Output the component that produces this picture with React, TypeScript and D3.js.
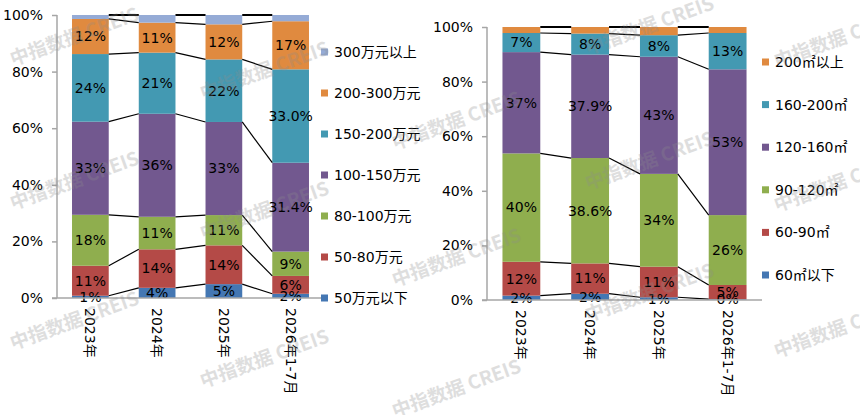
import { useEffect, useRef } from "react";
import * as d3 from "d3";

// categories
const years = ["2023年", "2024年", "2025年", "2026年1-7月"];

// 总价段 (left chart), bottom to top
const priceSeries = ["50万元以下", "50-80万元", "80-100万元", "100-150万元", "150-200万元", "200-300万元", "300万元以上"];
const priceValues = [
  [0.8, 3.6, 4.9, 1.5],
  [10.6, 13.6, 13.7, 6.3],
  [18.0, 11.5, 10.7, 8.6],
  [32.9, 36.4, 32.9, 31.4],
  [23.9, 21.6, 22.1, 33.0],
  [12.4, 10.6, 12.4, 17.0],
  [1.4, 2.7, 3.3, 2.2],
];
const priceLabels = [
  ["1%", "4%", "5%", "2%"],
  ["11%", "14%", "14%", "6%"],
  ["18%", "11%", "11%", "9%"],
  ["33%", "36%", "33%", "31.4%"],
  ["24%", "21%", "22%", "33.0%"],
  ["12%", "11%", "12%", "17%"],
  ["", "", "", ""],
];

// 面积段 (right chart), bottom to top
const areaSeries = ["60㎡以下", "60-90㎡", "90-120㎡", "120-160㎡", "160-200㎡", "200㎡以上"];
const areaValues = [
  [1.6, 2.3, 1.0, 0.3],
  [12.4, 11.1, 11.2, 5.2],
  [39.7, 38.6, 34.0, 25.6],
  [37.1, 37.9, 42.9, 53.4],
  [7.0, 7.7, 7.9, 13.3],
  [2.2, 2.4, 3.0, 2.2],
];
const areaLabels = [
  ["2%", "2%", "1%", "0%"],
  ["12%", "11%", "11%", "5%"],
  ["40%", "38.6%", "34%", "26%"],
  ["37%", "37.9%", "43%", "53%"],
  ["7%", "8%", "8%", "13%"],
  ["", "", "", ""],
];

const yTicks = [0, 20, 40, 60, 80, 100];

const priceColors = ["#4477B3", "#B44A47", "#8FAE4E", "#72588F", "#4399B2", "#E08A3F", "#95ABD6"];
const areaColors = ["#4477B3", "#B44A47", "#8FAE4E", "#72588F", "#4399B2", "#E08A3F"];

const FONT = "'DejaVu Sans', 'Noto Sans CJK SC', sans-serif";

// watermark anchors (layout only)
const marks = [
  [13, 66], [13, 210], [13, 350],
  [203, 100], [203, 240], [203, 388],
  [395, 150], [395, 287], [395, 418],
  [588, 55], [588, 190], [588, 322],
  [777, 68], [777, 212], [777, 358],
];

type ChartOpts = {
  series: string[];
  values: number[][];
  labels: string[][];
  colors: string[];
  x0: number;
  x1: number;
  yTop: number;
  yBottom: number;
  padding: number;
  legendX: number;
  legendTop: number;
  legendStep: number;
};

const drawChart = (svg: d3.Selection<SVGSVGElement, unknown, null, undefined>, o: ChartOpts) => {
  const g = svg.append("g");

  const rows = years.map((yr, i) => {
    const r: any = { year: yr };
    o.series.forEach((s, k) => { r[s] = o.values[k][i]; });
    return r;
  });

  const x = d3.scaleBand().domain(years).range([o.x0, o.x1]).paddingInner(o.padding).paddingOuter(o.padding / 2);
  const y = d3.scaleLinear().domain([0, 100]).range([o.yBottom, o.yTop]);
  const bw = x.bandwidth();

  const stacked = d3.stack<any>().keys(o.series)(rows);

  // bars
  stacked.forEach((layer, k) => {
    g.append("g")
      .selectAll("rect")
      .data(layer)
      .enter()
      .append("rect")
      .attr("x", (d) => x(d.data.year) || 0)
      .attr("y", (d) => y(d[1]))
      .attr("width", bw)
      .attr("height", (d) => y(d[0]) - y(d[1]))
      .attr("fill", o.colors[k]);
  });

  // series lines
  stacked.forEach((layer, k) => {
    for (let i = 0; i < layer.length - 1; i++) {
      g.append("line")
        .attr("x1", (x(years[i]) || 0) + bw)
        .attr("y1", y(layer[i][1]))
        .attr("x2", x(years[i + 1]) || 0)
        .attr("y2", y(layer[i + 1][1]))
        .attr("stroke", "#000")
        .attr("stroke-width", k === stacked.length - 1 ? 2 : 1.2);
    }
  });

  // data labels
  stacked.forEach((layer, k) => {
    layer.forEach((d, i) => {
      const t = o.labels[k][i];
      if (!t) return;
      g.append("text")
        .attr("x", (x(d.data.year) || 0) + bw / 2)
        .attr("y", y((d[0] + d[1]) / 2))
        .attr("dy", "0.35em")
        .attr("text-anchor", "middle")
        .attr("font-family", FONT)
        .attr("font-size", 14)
        .attr("fill", "#000")
        .text(t);
    });
  });

  // y axis
  const yAxis = g.append("g")
    .attr("transform", `translate(${o.x0},0)`)
    .call(d3.axisLeft(y).tickValues(yTicks).tickSize(5).tickPadding(9).tickFormat((d) => `${d}%`));
  yAxis.select(".domain").attr("stroke", "#A6A6A6").attr("stroke-width", 1.5).attr("d", `M0,${o.yTop}V${o.yBottom}`);
  yAxis.selectAll(".tick line").attr("stroke", "#A6A6A6").attr("stroke-width", 1.5);
  yAxis.selectAll("text").attr("font-family", FONT).attr("font-size", 14).attr("fill", "#000");

  // x axis line
  g.append("line")
    .attr("x1", o.x0 - 5)
    .attr("x2", o.x1)
    .attr("y1", o.yBottom)
    .attr("y2", o.yBottom)
    .attr("stroke", "#A6A6A6")
    .attr("stroke-width", 1.5);

  years.forEach((yr) => {
    const cx = (x(yr) || 0) + bw / 2;
    g.append("text")
      .attr("transform", `translate(${cx},${o.yBottom + 10}) rotate(90)`)
      .attr("dy", "0.35em")
      .attr("font-family", FONT)
      .attr("font-size", 14)
      .attr("fill", "#000")
      .text(yr);
  });

  // legend (top item = last series)
  const legendItems = [...o.series].reverse();
  legendItems.forEach((s, i) => {
    const k = o.series.indexOf(s);
    const cy = o.legendTop + i * o.legendStep;
    g.append("rect")
      .attr("x", o.legendX)
      .attr("y", cy - 3.5)
      .attr("width", 7)
      .attr("height", 7)
      .attr("fill", o.colors[k]);
    g.append("text")
      .attr("x", o.legendX + 13)
      .attr("y", cy)
      .attr("dy", "0.35em")
      .attr("font-family", FONT)
      .attr("font-size", 14)
      .attr("fill", "#000")
      .text(s);
  });
};

export default function App() {
  const svgRef = useRef<SVGSVGElement | null>(null);

  useEffect(() => {
    if (!svgRef.current) return;
    const svg = d3.select(svgRef.current);
    svg.selectAll("*").remove();

    svg.append("rect").attr("width", 860).attr("height", 415).attr("fill", "#fff");

    drawChart(svg, {
      series: priceSeries,
      values: priceValues,
      labels: priceLabels,
      colors: priceColors,
      x0: 57,
      x1: 324,
      yTop: 15,
      yBottom: 298,
      padding: 0.45,
      legendX: 321,
      legendTop: 52,
      legendStep: 41,
    });

    drawChart(svg, {
      series: areaSeries,
      values: areaValues,
      labels: areaLabels,
      colors: areaColors,
      x0: 487,
      x1: 762,
      yTop: 27,
      yBottom: 300,
      padding: 0.45,
      legendX: 762,
      legendTop: 62,
      legendStep: 42.6,
    });

    // watermark
    marks.forEach(([mx, my]) => {
      svg.append("text")
        .attr("transform", `translate(${mx},${my}) rotate(-20)`)
        .attr("font-family", "'Noto Sans CJK SC', sans-serif")
        .attr("font-size", 19)
        .attr("font-weight", "bold")
        .attr("fill", "#8c8c8c")
        .attr("opacity", 0.28)
        .text("中指数据 CREIS");
    });
  }, []);

  return (
    <div style={{ position: "absolute", left: 0, top: 0, width: 860, height: 415 }}>
      <svg ref={svgRef} width={860} height={415} />
    </div>
  );
}
